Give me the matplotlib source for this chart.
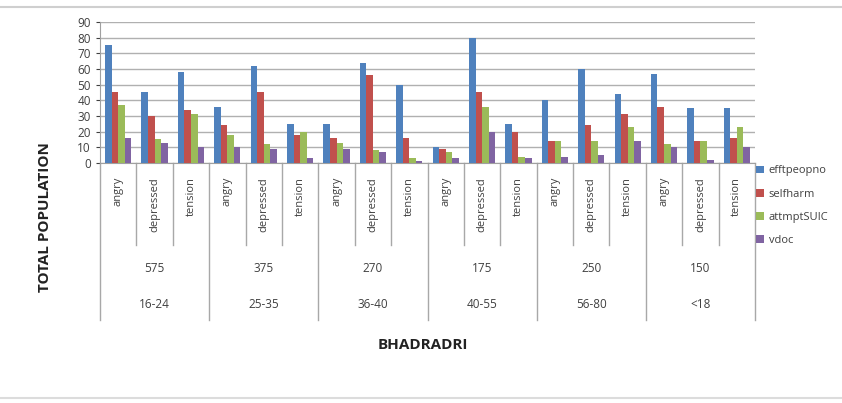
import numpy as np
import matplotlib.pyplot as plt
from matplotlib.transforms import blended_transform_factory

plt.rcParams['font.family'] = ['Open Sans', 'DejaVu Sans']

# --- DATA ---
ages = ["16-24", "25-35", "36-40", "40-55", "56-80", "<18"]
totals = ["575", "375", "270", "175", "250", "150"]
moods = ["angry", "depressed", "tension"]
series_names = ["efftpeopno", "selfharm", "attmptSUIC", "vdoc"]

efftpeopno = [75, 45, 58, 36, 62, 25, 25, 64, 50, 10, 80, 25, 40, 60, 44, 57, 35, 35]
selfharm = [45, 30, 34, 24, 45, 18, 16, 56, 16, 9, 45, 20, 14, 24, 31, 36, 14, 16]
attmptSUIC = [37, 15, 31, 18, 12, 20, 13, 8, 3, 7, 36, 4, 14, 14, 23, 12, 14, 23]
vdoc = [16, 13, 10, 10, 9, 3, 9, 7, 1, 3, 20, 3, 4, 5, 14, 10, 2, 10]

colors = ["#4F81BD", "#C0504D", "#9BBB59", "#8064A2"]

W, H = 842, 403
fig = plt.figure(figsize=(W / 100, H / 100), dpi=100)
# plot area in pixels: x 100..755, y 22..163
ax = fig.add_axes([100 / W, 1 - 163 / H, 655 / W, 141 / H])

n = len(efftpeopno)
x = np.arange(n)
bw = 0.18
all_series = [efftpeopno, selfharm, attmptSUIC, vdoc]
for i, (vals, name, c) in enumerate(zip(all_series, series_names, colors)):
    ax.bar(x + (i - 1.5) * bw, vals, bw, color=c, label=name, zorder=3)

ax.set_xlim(-0.5, n - 0.5)
ax.set_ylim(0, 90)
ax.set_yticks(range(0, 91, 10))
ax.tick_params(axis='y', labelsize=8.5, colors='#404040', length=3, width=0.8)
ax.tick_params(axis='x', bottom=False, labelbottom=False)
ax.yaxis.grid(True, color='#b0b0b0', linewidth=1.0, zorder=0)
for s in ['top', 'right']:
    ax.spines[s].set_visible(False)
ax.spines['left'].set_color('#a0a0a0')
ax.spines['bottom'].set_color('#a0a0a0')

# --- multi-level category axis ---
tr = blended_transform_factory(ax.transData, fig.transFigure)

def fy(py):
    return 1 - py / H

for k in range(n + 1):
    xb = k - 0.5
    y_end = 320 if k % 3 == 0 else 245
    ax.plot([xb, xb], [fy(163), fy(y_end)], transform=tr, color='#a8a8a8',
            linewidth=1.0, clip_on=False)

for k in range(n):
    ax.text(k, fy(177), moods[k % 3], transform=tr, rotation=90,
            ha='center', va='top', fontsize=8, color='#404040')

for g in range(len(ages)):
    xc = g * 3 + 1
    ax.text(xc, fy(268), totals[g], transform=tr, ha='center', va='center',
            fontsize=8.5, color='#404040')
    ax.text(xc, fy(305), ages[g], transform=tr, ha='center', va='center',
            fontsize=8.5, color='#404040')

fig.text(45 / W, fy(217), "TOTAL POPULATION", rotation=90, ha='center',
         va='center', fontsize=11, fontweight='bold', color='#222222')
fig.text(423 / W, fy(345), "BHADRADRI", ha='center', va='center',
         fontsize=11, fontweight='bold', color='#222222')

ax.legend(loc='upper left', bbox_to_anchor=(752 / W, fy(161)),
          bbox_transform=fig.transFigure, frameon=False, fontsize=8,
          handlelength=0.7, handleheight=0.7, handletextpad=0.4,
          labelspacing=1.1, borderaxespad=0, labelcolor='#404040')

# thin frame lines of the picture
fig.add_artist(plt.Line2D([0, 1], [fy(7), fy(7)], color='#cfcfcf', linewidth=1.5))
fig.add_artist(plt.Line2D([0, 1], [fy(398), fy(398)], color='#dcdcdc', linewidth=1.5))

fig.savefig("out.png", dpi=100)
